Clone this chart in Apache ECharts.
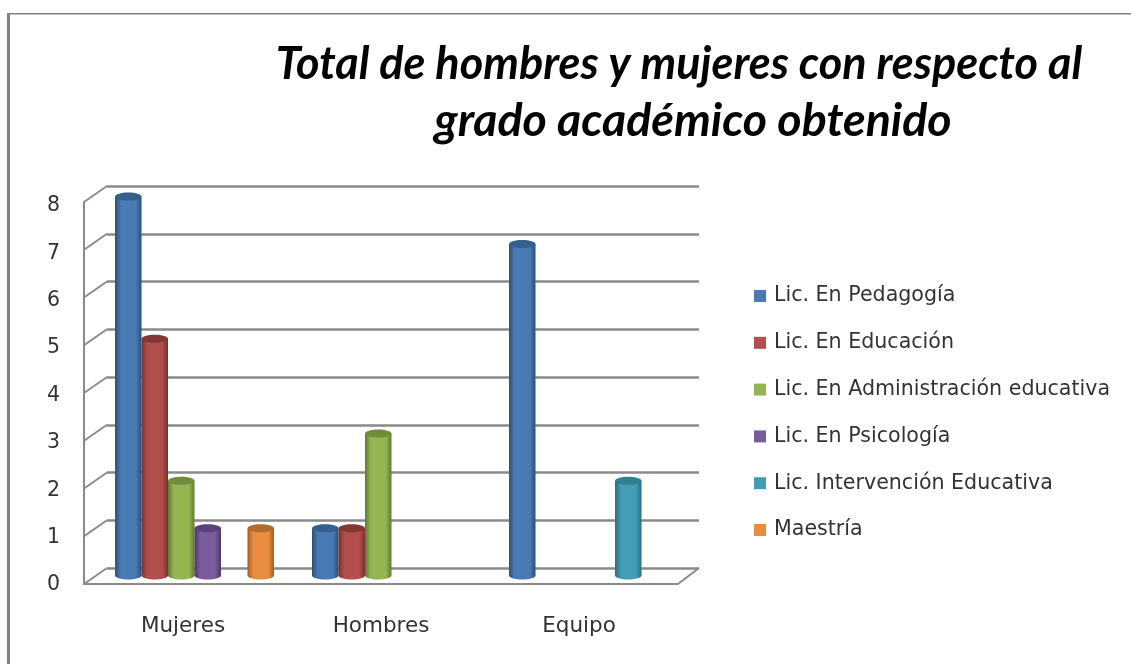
<!DOCTYPE html>
<html>
<head>
<meta charset="utf-8">
<script src="https://cdn.jsdelivr.net/npm/echarts@6/dist/echarts.min.js"></script>
<style>
  html, body { margin: 0; padding: 0; background: #fff; }
  #chart { width: 1131px; height: 664px; }
</style>
</head>
<body>
<div id="chart"></div>
<script>
  const titleLine1 = 'Total de hombres y mujeres con respecto al'
  const titleLine2 = 'grado académico obtenido'
  const categories = ['Mujeres', 'Hombres', 'Equipo']
  const yTicks = [0, 1, 2, 3, 4, 5, 6, 7, 8]

  const pedagogia = [8, 1, 7]
  const educacion = [5, 1, null]
  const administracion = [2, 3, null]
  const psicologia = [1, null, null]
  const intervencion = [null, null, 2]
  const maestria = [1, null, null]

  const fontFamily = '"DejaVu Sans", sans-serif'
  const titleFont = 'Lato, sans-serif'
  const labelColor = '#333'
  const gridColor = '#8a8a8a'
  const depthX = 23
  const depthY = -16

  const groups = [
    { name: 'Lic. En Pedagogía', data: pedagogia, color: '#4a7ab4', dark: '#2c5075', top: '#33608f' },
    { name: 'Lic. En Educación', data: educacion, color: '#b24e4b', dark: '#7a302f', top: '#843634' },
    { name: 'Lic. En Administración educativa', data: administracion, color: '#95b553', dark: '#5f7a32', top: '#6f8c3c' },
    { name: 'Lic. En Psicología', data: psicologia, color: '#7a5c9c', dark: '#4c3768', top: '#5a4179' },
    { name: 'Lic. Intervención Educativa', data: intervencion, color: '#439db7', dark: '#2a6d80', top: '#307f94' },
    { name: 'Maestría', data: maestria, color: '#e88c3f', dark: '#a35c20', top: '#b36a2a' },
  ]

  // cylinder for one value, slot = position of the group inside the category
  function cylinder(slot, item) {
    return function (params, api) {
      const val = api.value(1)
      if (val == null || isNaN(val)) return
      const band = api.size([1, 0])[0]
      const w = (band * 0.807) / 6
      const base = api.coord([api.value(0), 0])
      const head = api.coord([api.value(0), val])
      const x = base[0] - (w * 6) / 2 + slot * w
      const ry = 4
      const fill = new echarts.graphic.LinearGradient(0, 0, 1, 0, [
        { offset: 0, color: item.dark },
        { offset: 0.22, color: item.color },
        { offset: 0.78, color: item.color },
        { offset: 1, color: item.dark },
      ])
      return {
        type: 'group',
        children: [
          {
            type: 'rect',
            shape: { x: x, y: head[1], width: w, height: base[1] - head[1] },
            style: { fill: fill },
          },
          {
            type: 'ellipse',
            shape: { cx: x + w / 2, cy: base[1], rx: w / 2, ry: ry },
            style: { fill: fill },
          },
          {
            type: 'ellipse',
            shape: { cx: x + w / 2, cy: head[1], rx: w / 2, ry: ry },
            style: { fill: item.top },
          },
        ],
      }
    }
  }

  // depth lines joining the front axis to the back wall
  function wallDepth(params, api) {
    const y = api.coord([0, api.value(0)])[1]
    const x = params.coordSys.x
    return {
      type: 'line',
      shape: { x1: x, y1: y, x2: x + depthX, y2: y + depthY },
      style: { stroke: gridColor, lineWidth: 2 },
    }
  }

  function floorDepth(params, api) {
    const y = api.coord([0, 0])[1]
    const x = params.coordSys.x + params.coordSys.width
    return {
      type: 'line',
      shape: { x1: x, y1: y, x2: x + depthX - 2, y2: y + depthY },
      style: { stroke: gridColor, lineWidth: 2 },
    }
  }

  const option = {
    animation: false,
    backgroundColor: '#fff',
    textStyle: { fontFamily: fontFamily },
    title: [
      {
        text: titleLine1,
        left: 674,
        top: 37,
        textAlign: 'center',
        textStyle: { fontFamily: titleFont, fontSize: 45, fontWeight: 'bold', fontStyle: 'italic', color: '#000' },
      },
      {
        text: titleLine2,
        left: 688,
        top: 92,
        textAlign: 'center',
        textStyle: { fontFamily: titleFont, fontSize: 46.5, fontWeight: 'bold', fontStyle: 'italic', color: '#000' },
      },
    ],
    legend: {
      orient: 'vertical',
      left: 749,
      top: 279,
      itemWidth: 12,
      itemHeight: 12,
      itemGap: 22.8,
      icon: 'rect',
      data: groups.map((g) => ({ name: g.name, itemStyle: { color: g.color } })),
      textStyle: { fontFamily: fontFamily, fontSize: 20.6, color: labelColor, padding: [0, 0, 0, 3], lineHeight: 24 },
    },
    grid: [
      { left: 107, top: 186, width: 592, height: 382 },
      { left: 84, top: 202, width: 594, height: 382 },
      { left: 96, top: 196.5, width: 591, height: 379 },
      { left: 84, top: 206, width: 594, height: 379 },
    ],
    xAxis: [
      { gridIndex: 0, type: 'category', data: categories, show: false },
      {
        gridIndex: 1,
        type: 'category',
        data: categories,
        axisLine: { lineStyle: { color: gridColor, width: 2 } },
        axisTick: { show: false },
        axisLabel: { margin: 31, fontSize: 21.5, color: labelColor, fontFamily: fontFamily },
      },
      { gridIndex: 2, type: 'category', data: categories, show: false },
      { gridIndex: 3, type: 'category', data: categories, show: false },
    ],
    yAxis: [
      {
        gridIndex: 0,
        type: 'value',
        min: 0,
        max: 8,
        interval: 1,
        axisLine: { show: false },
        axisTick: { show: false },
        axisLabel: { show: false },
        splitLine: { lineStyle: { color: gridColor, width: 2.5 } },
      },
      {
        gridIndex: 1,
        type: 'value',
        min: 0,
        max: 8,
        interval: 1,
        axisLine: { show: true, onZero: false, lineStyle: { color: gridColor, width: 2 } },
        axisTick: { show: false },
        axisLabel: { show: false },
        splitLine: { show: false },
      },
      { gridIndex: 2, type: 'value', min: 0, max: 8, interval: 1, show: false },
      {
        // tick labels sit a little lower than the front axis
        gridIndex: 3,
        type: 'value',
        min: 0,
        max: 8,
        interval: 1,
        axisLine: { show: false },
        axisTick: { show: false },
        splitLine: { show: false },
        axisLabel: { margin: 24, fontSize: 20.5, color: labelColor, fontFamily: fontFamily },
      },
    ],
    series: [
      {
        type: 'custom',
        name: 'paredIzq',
        xAxisIndex: 1,
        yAxisIndex: 1,
        silent: true,
        data: yTicks.map((v) => [v]),
        encode: { y: 0 },
        renderItem: wallDepth,
      },
      {
        type: 'custom',
        name: 'piso',
        xAxisIndex: 1,
        yAxisIndex: 1,
        silent: true,
        data: [[0]],
        encode: { y: 0 },
        renderItem: floorDepth,
      },
    ].concat(
      groups.map((g, slot) => ({
        type: 'custom',
        name: g.name,
        xAxisIndex: 2,
        yAxisIndex: 2,
        z: 5,
        itemStyle: { color: g.color },
        data: g.data.map((v, i) => [i, v]),
        encode: { x: 0, y: 1 },
        renderItem: cylinder(slot, g),
      }))
    ),
    graphic: [
      { type: 'rect', left: 7, top: 13, shape: { width: 3, height: 651 }, style: { fill: '#808080' } },
      { type: 'rect', left: 7, top: 13, shape: { width: 1124, height: 1.5 }, style: { fill: '#808080' } },
    ],
  }

  const chart = echarts.init(document.getElementById('chart'))
  chart.setOption(option)
</script>
</body>
</html>
